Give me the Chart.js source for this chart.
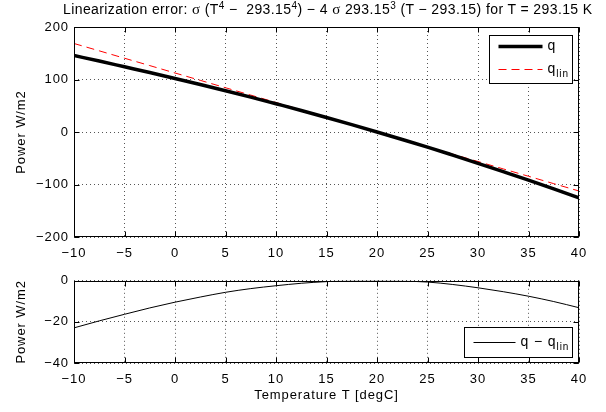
<!DOCTYPE html>
<html>
<head>
<meta charset="utf-8">
<script src="https://cdn.jsdelivr.net/npm/chart.js@4.4.0/dist/chart.umd.min.js"></script>
<style>
    html, body { margin: 0; padding: 0; background: #fff; }
    #wrap { position: relative; width: 606px; height: 412px; overflow: hidden; font-family: 'Liberation Sans', Arial, sans-serif; }
    #title { position: absolute; left: 63px; top: 1px; font-size: 14px; letter-spacing: 0.4px; white-space: nowrap; color: #000; }
    #title sup { font-size: 10px; vertical-align: 5px; line-height: 0; }
    #title .s { font-family: 'Liberation Serif', serif; font-size: 15px; }
    canvas { position: absolute; left: 0; }
    #topChart { top: 0; }
    #botChart { top: 268px; }
</style>
</head>
<body>
<div id="wrap">
    <canvas id="topChart" width="606" height="268"></canvas>
    <canvas id="botChart" width="606" height="144"></canvas>
    <div id="title">Linearization error: <span class="s">σ</span> (T<sup>4</sup> −&nbsp; 293.15<sup>4</sup>) − 4 <span class="s">σ</span> 293.15<sup>3</sup> (T − 293.15) for T = 293.15 K</div>
</div>
<script>
// Valores (T en degC, potencias en W/m2)
const temps = [-10, -7.5, -5, -2.5, 0, 2.5, 5, 7.5, 10, 12.5, 15, 17.5, 20, 22.5, 25, 27.5, 30, 32.5, 35, 37.5, 40];
const qValues = [145.7, 135.1, 124.2, 113.3, 102.0, 90.5, 78.7, 66.5, 53.8, 41.0, 27.7, 14.0, 0, -14.2, -28.7, -44.0, -59.6, -75.6, -91.8, -108.5, -125.5];
const qLinValues = [168.6, 154.6, 140.5, 126.5, 112.4, 98.4, 84.3, 70.3, 56.2, 42.2, 28.1, 14.1, 0, -14.1, -28.1, -42.2, -56.2, -70.3, -84.3, -98.4, -112.4];
const errValues = [-22.9, -19.5, -16.3, -13.2, -10.4, -7.9, -5.6, -3.8, -2.4, -1.2, -0.4, -0.05, 0, -0.15, -0.6, -1.8, -3.4, -5.3, -7.5, -10.1, -13.1];

const xTicksStep = 5;
const topYStep = 100;
const botYStep = 20;

const FONT = "'Liberation Sans', Arial, sans-serif";
Chart.defaults.font.family = FONT;
Chart.defaults.font.size = 13;
Chart.defaults.color = '#000';

const toPoints = (ys) => temps.map((t, i) => ({ x: t, y: ys[i] }));
const minus = (v) => String(v).replace('-', '\u2212');

// letra un poco más ancha, como Helvetica de MATLAB
const wideText = {
    id: 'wideText',
    beforeDraw(chart) { chart.ctx.letterSpacing = '0.9px'; }
};

// caja de ejes + marcas hacia adentro (estilo MATLAB)
const matlabAxes = {
    id: 'matlabAxes',
    afterDatasetsDraw(chart) {
        const { ctx, chartArea: a, scales } = chart;
        const L = Math.round(a.left) + 0.5, R = Math.round(a.right) - 0.5;
        const T = Math.round(a.top) + 0.5, B = Math.round(a.bottom) - 0.5;
        ctx.save();
        ctx.strokeStyle = '#000';
        ctx.lineWidth = 1;
        ctx.setLineDash([]);
        ctx.beginPath();
        scales.x.ticks.forEach(t => {
            const px = Math.round(scales.x.getPixelForValue(t.value)) + 0.5;
            ctx.moveTo(px, B); ctx.lineTo(px, B - 5);
            ctx.moveTo(px, T); ctx.lineTo(px, T + 5);
        });
        scales.y.ticks.forEach(t => {
            const py = Math.round(scales.y.getPixelForValue(t.value)) + 0.5;
            ctx.moveTo(L, py); ctx.lineTo(L + 5, py);
            ctx.moveTo(R, py); ctx.lineTo(R - 5, py);
        });
        ctx.stroke();
        ctx.strokeRect(L, T, R - L, B - T);
        ctx.restore();
    }
};

// leyenda con subíndices ("q_lin")
const boxLegend = {
    id: 'boxLegend',
    afterDraw(chart, args, opts) {
        const { ctx, chartArea: a } = chart;
        const bx = Math.round(a.right - opts.offsetX - opts.width) + 0.5;
        const by = (opts.top != null ? Math.round(a.top + opts.top) : Math.round(a.bottom - opts.offsetY - opts.height)) + 0.5;
        ctx.save();
        ctx.fillStyle = '#fff';
        ctx.fillRect(bx, by, opts.width, opts.height);
        ctx.strokeStyle = '#000';
        ctx.lineWidth = 1;
        ctx.strokeRect(bx, by, opts.width, opts.height);
        chart.data.datasets.forEach((ds, i) => {
            const ly = by + opts.firstRow + i * opts.rowGap;
            ctx.beginPath();
            ctx.strokeStyle = ds.borderColor;
            ctx.lineWidth = ds.borderWidth;
            ctx.setLineDash(ds.borderDash || []);
            ctx.moveTo(bx + opts.lineStart, ly);
            ctx.lineTo(bx + opts.lineEnd, ly);
            ctx.stroke();
            ctx.setLineDash([]);
            const [main, sub] = ds.label.split('_');
            ctx.fillStyle = '#000';
            ctx.textBaseline = 'middle';
            ctx.font = '14px ' + FONT;
            ctx.fillText(main, bx + opts.textX, ly);
            if (sub) {
                const w = ctx.measureText(main).width;
                ctx.font = '10px ' + FONT;
                ctx.fillText(sub, bx + opts.textX + w, ly + 5);
            }
        });
        ctx.restore();
    }
};

function axisOpts(min, max, step, extra) {
    return Object.assign({
        type: 'linear',
        min: min,
        max: max,
        ticks: { stepSize: step, padding: 5, callback: minus, font: { size: 13 } },
        grid: { color: '#555', drawTicks: false, lineWidth: 1 },
        border: { display: false, dash: [1, 3] }
    }, extra);
}

function xTicks() {
    return { stepSize: xTicksStep, padding: 9, callback: minus, font: { size: 13 } };
}

function yTitle() {
    return { display: true, text: 'Power W/m2', font: { size: 13 }, padding: { top: 14, bottom: 0 } };
}

new Chart(document.getElementById('topChart'), {
    type: 'line',
    data: {
        datasets: [
            {
                label: 'q',
                data: toPoints(qValues),
                borderColor: '#000',
                borderWidth: 3.5,
                pointRadius: 0,
                cubicInterpolationMode: 'monotone'
            },
            {
                label: 'q_lin',
                data: toPoints(qLinValues),
                borderColor: '#ff0000',
                borderWidth: 1,
                borderDash: [8, 5],
                pointRadius: 0
            }
        ]
    },
    options: {
        responsive: false,
        animation: false,
        devicePixelRatio: 1,
        layout: { padding: { top: 27, right: 27, left: 0, bottom: 0 } },
        plugins: {
            legend: { display: false },
            tooltip: { enabled: false },
            boxLegend: { offsetX: 7, top: 8, width: 83, height: 48, firstRow: 11, rowGap: 23, lineStart: 9, lineEnd: 53, textX: 58 }
        },
        scales: {
            x: axisOpts(-10, 40, xTicksStep, { ticks: xTicks(), afterFit: (s) => { s.height = 31; } }),
            y: axisOpts(-200, 200, topYStep, { title: yTitle(), afterFit: (s) => { s.width = 74; } })
        }
    },
    plugins: [wideText, matlabAxes, boxLegend]
});

new Chart(document.getElementById('botChart'), {
    type: 'line',
    data: {
        datasets: [
            {
                label: 'q − q_lin',
                data: toPoints(errValues),
                borderColor: '#000',
                borderWidth: 1,
                pointRadius: 0,
                cubicInterpolationMode: 'monotone'
            }
        ]
    },
    options: {
        responsive: false,
        animation: false,
        devicePixelRatio: 1,
        layout: { padding: { top: 12, right: 27, left: 0, bottom: 0 } },
        plugins: {
            legend: { display: false },
            tooltip: { enabled: false },
            boxLegend: { offsetX: 7, offsetY: 6, width: 108, height: 30, firstRow: 15, rowGap: 0, lineStart: 9, lineEnd: 51, textX: 56 }
        },
        scales: {
            x: axisOpts(-10, 40, xTicksStep, {
                ticks: xTicks(),
                title: { display: true, text: 'Temperature T [degC]', font: { size: 13 }, padding: { top: 0, bottom: 9 } },
                afterFit: (s) => { s.height = 49; }
            }),
            y: axisOpts(-40, 0, botYStep, { title: yTitle(), afterFit: (s) => { s.width = 74; } })
        }
    },
    plugins: [wideText, matlabAxes, boxLegend]
});
</script>
</body>
</html>
